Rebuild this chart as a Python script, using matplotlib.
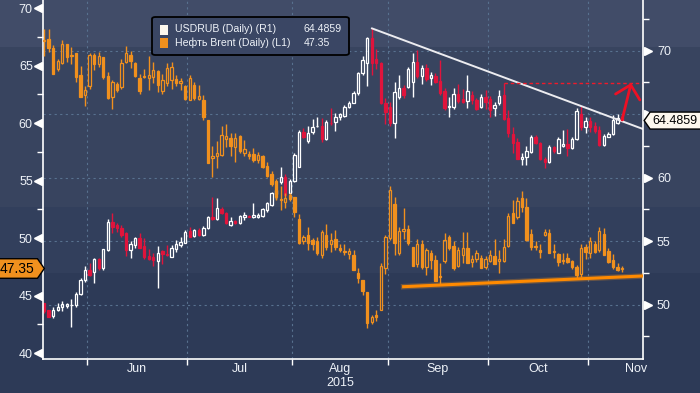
import numpy as np
import pandas as pd
import matplotlib
matplotlib.use('Agg')
import matplotlib.pyplot as plt
from matplotlib.path import Path
from matplotlib.patches import FancyBboxPatch, Rectangle
from matplotlib.ticker import MultipleLocator, FuncFormatter
from matplotlib.transforms import ScaledTranslation

plt.rcParams['font.family'] = ['Liberation Sans', 'DejaVu Sans']

# trading days shown on the chart
dates = pd.bdate_range('2015-05-18', periods=128)

brent_open = [67.1, 67.3, 66.5, 64.7, 65.2, 66.9, 65.8, 66.1, 64.2, 62.4,
              63.2, 65.9, 65.1, 65.7, 64.1, 62.3, 63.4, 63.1, 65.3, 65.9,
              65.2, 63.9, 64.0, 63.9, 64.0, 64.5, 62.8, 63.45, 63.7, 63.8,
              63.45, 63.2, 62.0, 63.3, 62.1, 62.0, 60.3, 57.0, 57.1, 57.2,
              58.6, 58.7, 57.9, 58.9, 57.4, 57.35, 57.3, 56.8, 57.1, 56.3,
              55.6, 55.0, 53.3, 53.1, 53.7, 53.6, 51.65, 49.7, 50.25, 49.8,
              49.7, 48.5, 50.25, 49.5, 49.9, 49.1, 48.85, 48.6, 48.5, 47.0,
              46.35, 45.3, 42.7, 43.3, 43.7, 47.4, 49.97, 53.0, 48.67, 50.6,
              50.8, 49.25, 47.7, 49.5, 47.45, 48.67, 48.1, 46.6, 48.0, 50.1,
              49.3, 47.6, 48.5, 49.1, 47.9, 48.2, 48.3, 47.45, 48.0, 48.4,
              48.0, 48.0, 49.3, 52.2, 51.8, 53.45, 52.7, 50.35, 49.3, 49.0,
              50.3, 50.4, 48.9, 48.6, 48.1, 48.3, 48.0, 47.45, 46.9, 49.2,
              48.67, 49.5, 48.96, 50.35, 48.9, 48.1, 47.5, 47.35]
brent_high = [68.2, 68.2, 66.8, 65.6, 67.2, 66.9, 66.6, 66.1, 65.0, 63.2,
              66.1, 66.1, 66.2, 65.7, 64.4, 63.7, 63.6, 65.6, 66.7, 66.3,
              65.3, 64.3, 64.7, 65.8, 65.3, 64.6, 64.3, 65.2, 65.3, 64.2,
              63.9, 63.3, 64.2, 63.6, 63.3, 62.4, 60.3, 58.0, 58.4, 59.7,
              59.9, 59.1, 59.1, 59.0, 58.5, 57.6, 57.8, 57.5, 57.2, 56.6,
              55.8, 55.1, 54.5, 53.9, 53.9, 53.6, 52.1, 50.3, 50.98, 49.97,
              50.1, 50.7, 51.2, 50.4, 50.7, 49.5, 49.5, 49.1, 48.96, 47.4,
              46.35, 45.3, 43.3, 43.7, 47.8, 50.3, 54.5, 53.6, 50.98, 52.6,
              51.1, 49.25, 49.9, 49.8, 49.1, 49.0, 48.5, 47.8, 50.4, 50.3,
              49.7, 49.2, 50.5, 50.55, 48.5, 48.96, 48.5, 48.4, 49.0, 49.9,
              48.96, 49.9, 52.15, 53.3, 53.6, 54.1, 53.45, 50.76, 49.7, 49.5,
              50.76, 50.76, 49.5, 48.7, 48.7, 48.67, 48.1, 47.65, 49.5, 49.5,
              50.1, 49.7, 50.98, 50.9, 49.1, 48.6, 47.85, 47.6]
brent_low = [65.8, 66.2, 64.3, 64.5, 65.1, 65.3, 65.1, 63.6, 62.3, 61.5,
             63.0, 64.6, 64.9, 63.8, 62.1, 61.2, 62.7, 63.0, 65.2, 64.8,
             64.0, 62.5, 63.9, 62.9, 63.5, 62.7, 62.5, 63.2, 63.0, 63.2,
             62.9, 62.0, 62.0, 62.0, 62.0, 60.3, 56.5, 55.3, 56.1, 57.1,
             57.9, 57.1, 56.6, 57.4, 57.1, 56.9, 56.6, 56.5, 56.1, 55.3,
             54.5, 53.3, 52.4, 52.6, 53.2, 51.8, 49.5, 49.5, 49.0, 48.96,
             48.5, 48.3, 48.96, 48.8, 48.96, 48.8, 48.5, 48.2, 47.2, 46.1,
             45.05, 42.2, 42.5, 42.8, 43.7, 46.9, 49.8, 48.5, 48.5, 49.9,
             49.4, 47.6, 47.5, 47.35, 46.8, 47.3, 46.3, 46.0, 47.8, 48.96,
             47.2, 47.5, 47.8, 47.8, 47.45, 47.95, 47.4, 47.3, 47.9, 47.7,
             47.0, 47.95, 49.25, 51.3, 51.65, 52.3, 49.75, 48.96, 48.96, 48.3,
             50.2, 48.67, 48.3, 47.6, 47.7, 47.8, 47.35, 46.5, 46.6, 48.2,
             48.3, 48.67, 48.8, 48.5, 47.8, 47.3, 47.15, 47.05]
brent_close = [67.2, 66.5, 64.3, 65.4, 66.9, 65.7, 65.9, 64.0, 62.3, 62.9,
               65.9, 65.1, 65.8, 64.0, 62.2, 63.6, 62.9, 65.2, 66.1, 65.4,
               64.1, 62.8, 64.1, 64.2, 64.6, 63.3, 63.7, 64.8, 64.85, 63.45,
               63.65, 62.1, 63.9, 62.15, 62.35, 60.5, 56.55, 57.1, 57.4, 58.96,
               58.9, 58.0, 58.7, 57.6, 57.7, 57.1, 56.8, 57.2, 56.2, 55.4,
               54.7, 53.6, 53.4, 53.45, 53.4, 52.3, 49.6, 50.1, 49.6, 49.5,
               48.67, 50.55, 49.2, 49.8, 49.2, 49.0, 48.8, 48.9, 47.2, 46.5,
               45.4, 42.6, 43.1, 43.1, 47.6, 50.1, 54.2, 49.6, 50.6, 50.8,
               49.6, 47.6, 49.5, 47.5, 48.96, 48.1, 46.3, 46.7, 49.8, 49.1,
               47.4, 48.96, 49.1, 47.8, 48.2, 48.7, 47.4, 48.2, 48.5, 47.75,
               48.2, 49.25, 51.95, 51.3, 53.2, 52.7, 49.8, 49.25, 49.2, 48.8,
               50.5, 48.67, 48.8, 47.9, 48.0, 47.95, 47.5, 46.8, 49.1, 48.8,
               49.7, 48.8, 50.6, 48.5, 47.95, 47.45, 47.2, 47.35]

rub_open = [50.1, 49.57, 49.1, 49.57, 49.78, 49.9, 49.93, 49.97, 50.83, 51.93,
            52.7, 52.6, 53.56, 52.85, 54.3, 56.5, 56.27, 56.0, 55.66, 54.3,
            54.69, 55.21, 54.6, 53.82, 53.72, 53.46, 54.2, 53.98, 53.77, 54.35,
            54.69, 54.87, 55.82, 55.4, 55.87, 55.48, 56.0, 56.92, 56.73, 57.52,
            57.18, 56.27, 56.58, 56.4, 56.92, 57.0, 56.92, 56.92, 56.97, 57.44,
            57.84, 58.7, 59.67, 60.07, 58.76, 59.75, 60.85, 63.56, 62.9, 63.56,
            64.03, 64.06, 63.0, 64.3, 64.4, 64.74, 64.85, 65.53, 65.84, 66.63,
            68.2, 68.99, 70.96, 69.3, 68.99, 65.84, 65.53, 64.27, 66.37, 67.02,
            67.15, 67.55, 69.12, 67.99, 68.6, 67.81, 67.99, 67.6, 66.84, 65.53,
            65.53, 66.58, 66.18, 66.05, 66.5, 66.1, 65.58, 66.32, 66.16, 65.45,
            65.9, 66.5, 64.66, 63.43, 62.8, 61.43, 61.64, 62.04, 63.17, 62.69,
            61.43, 61.25, 62.38, 61.96, 62.48, 62.64, 62.3, 63.01, 65.0, 63.95,
            64.45, 64.06, 63.74, 62.56, 63.22, 63.4, 64.27, 64.74]
rub_high = [50.15, 49.6, 49.78, 50.15, 50.3, 50.15, 50.4, 51.0, 52.1, 53.0,
            53.25, 53.7, 53.7, 54.4, 56.7, 57.23, 56.45, 56.27, 55.74, 55.03,
            55.34, 55.6, 55.21, 54.35, 54.03, 54.6, 54.3, 54.69, 54.69, 55.08,
            55.34, 55.87, 56.13, 55.92, 56.0, 56.18, 56.97, 58.5, 58.36, 57.71,
            57.31, 56.92, 56.66, 57.05, 57.31, 57.05, 58.02, 57.18, 57.58, 58.1,
            58.89, 59.4, 60.85, 60.28, 59.85, 61.9, 63.74, 63.87, 64.06, 64.58,
            64.74, 64.66, 64.53, 65.45, 65.06, 65.1, 65.71, 66.05, 66.84, 68.34,
            69.57, 71.09, 71.75, 70.1, 69.12, 66.24, 65.97, 67.55, 68.07, 67.29,
            68.73, 69.78, 70.04, 68.86, 68.94, 68.34, 68.26, 69.25, 67.02, 66.32,
            67.02, 67.36, 67.0, 68.07, 66.84, 66.24, 66.58, 66.89, 66.42, 65.97,
            66.89, 67.42, 65.32, 63.95, 63.09, 61.9, 62.48, 63.35, 63.35, 62.82,
            61.64, 62.56, 62.5, 63.22, 63.74, 63.8, 63.22, 65.45, 65.63, 64.74,
            64.74, 64.4, 64.06, 63.4, 63.61, 64.92, 65.0, 64.92]
rub_low = [49.3, 49.0, 48.97, 49.5, 49.5, 49.7, 48.2, 49.78, 50.75, 51.8,
           52.25, 51.7, 52.7, 52.7, 54.24, 55.66, 55.74, 55.34, 53.82, 53.64,
           54.42, 54.48, 53.56, 53.5, 53.03, 51.3, 53.2, 53.8, 53.72, 54.16,
           54.56, 54.82, 55.29, 55.34, 55.4, 55.4, 55.92, 56.66, 56.66, 57.13,
           56.32, 56.18, 56.35, 56.35, 56.66, 56.87, 56.79, 56.84, 56.87, 57.31,
           57.76, 58.3, 59.5, 58.5, 58.63, 59.67, 60.8, 63.1, 62.69, 63.43,
           64.0, 62.8, 62.95, 64.14, 63.69, 64.53, 64.8, 65.45, 65.84, 66.5,
           68.07, 67.21, 68.07, 68.52, 65.79, 64.22, 64.06, 63.09, 66.16, 66.24,
           67.02, 66.32, 67.81, 67.37, 67.63, 67.29, 67.42, 66.5, 65.32, 64.74,
           65.37, 65.84, 65.9, 65.45, 65.79, 65.32, 65.45, 65.37, 64.74, 64.85,
           65.71, 64.53, 63.22, 61.96, 61.43, 60.99, 60.99, 61.9, 62.64, 61.38,
           60.73, 61.12, 61.9, 61.9, 62.43, 61.7, 62.22, 62.96, 63.74, 63.53,
           63.61, 63.53, 62.48, 62.48, 63.17, 63.35, 64.22, 64.48]
rub_close = [49.5, 49.05, 49.57, 49.78, 50.04, 50.04, 49.97, 50.83, 51.93, 52.7,
             52.3, 53.56, 52.85, 54.35, 56.5, 56.13, 56.0, 55.47, 54.3, 54.77,
             55.21, 54.48, 53.77, 53.59, 53.51, 54.03, 53.96, 53.88, 54.48, 54.77,
             54.95, 55.74, 55.34, 55.87, 55.48, 56.0, 56.92, 56.7, 57.58, 57.18,
             56.4, 56.6, 56.4, 56.97, 57.05, 56.9, 57.05, 57.05, 57.5, 57.97,
             58.76, 59.0, 60.07, 58.6, 59.75, 61.78, 63.56, 63.17, 63.48, 64.0,
             64.06, 63.0, 64.4, 64.27, 64.74, 65.0, 65.53, 65.9, 66.68, 68.2,
             69.25, 70.96, 68.99, 68.99, 65.84, 65.18, 64.27, 66.76, 67.02, 66.5,
             68.52, 69.12, 67.99, 68.6, 67.73, 68.07, 67.55, 66.68, 65.45, 65.6,
             66.58, 66.05, 65.97, 66.84, 66.1, 65.37, 66.32, 65.97, 65.32, 65.71,
             66.42, 64.58, 63.48, 62.74, 61.43, 61.59, 62.09, 63.17, 62.69, 61.43,
             61.25, 62.43, 62.12, 63.03, 62.64, 62.35, 63.03, 65.27, 63.95, 64.45,
             63.95, 63.69, 62.56, 63.27, 63.4, 64.53, 64.66, 64.4859]

# hand-drawn annotation lines (x in trading-day index)
trend_x = [72, 131.6]          # resistance on USDRUB (right axis)
trend_y = [71.75, 63.82]
support_x = [79, 131.6]        # support on Brent (left axis)
support_y = [45.77, 46.7]
target_level = 67.45
target_from = 101
arrow_from = (127, 64.53)
arrow_to = (129, 67.45)

month_names = ['Jun', 'Jul', 'Aug\n2015', 'Sep', 'Oct', 'Nov']

BG = '#2f3c5a'
ORANGE = '#f0901e'
RED = '#e0143c'
TXT = '#eef2f8'
GRID = '#58718f'

W, H = 700, 393
fig = plt.figure(figsize=(W / 100, H / 100), dpi=100)
fig.patch.set_facecolor(BG)

bg = fig.add_axes([0, 0, 1, 1], zorder=-5)
bg.set_xlim(0, 1)
bg.set_ylim(H, 0)
bg.axhspan(0, 47, color='#414c68', lw=0)
bg.axhspan(47, 207, color='#38445f', lw=0)
bg.axhspan(207, 273, color='#323f5c', lw=0)
bg.axhspan(273, H, color='#2d3a57', lw=0)
bg.axis('off')

# base axes = USDRUB (right scale), twin on top = Brent (left scale)
ax = fig.add_axes([42.5 / W, (H - 359) / H, (643 - 42.5) / W, 359 / H])
ax.patch.set_visible(False)
axb = ax.twinx()
ax.yaxis.tick_right()
axb.yaxis.tick_left()
axb.patch.set_visible(False)

n = len(dates)
x = np.arange(n)
ax.set_xlim(-0.35, 131.6)
ax.set_ylim(45.71, 73.98)
axb.set_ylim(39.48, 70.70)


def candles(axis, o, h, l, c, up_edge, up_face, dn_edge, dn_face):
    o, h, l, c = map(np.asarray, (o, h, l, c))
    top = np.maximum(o, c)
    bot = np.minimum(o, c)
    up = c >= o
    edges = [up_edge if u else dn_edge for u in up]
    faces = [up_face if u else dn_face for u in up]
    axis.vlines(x, top, np.maximum(h, top), colors=edges, lw=1)
    axis.vlines(x, np.minimum(l, bot), bot, colors=edges, lw=1)
    axis.bar(x, np.maximum(top - bot, 0.04), bottom=bot, width=0.52,
             color=faces, edgecolor=edges, linewidth=0.9)


candles(ax, rub_open, rub_high, rub_low, rub_close, 'white', 'none', RED, RED)
candles(axb, brent_open, brent_high, brent_low, brent_close,
        ORANGE, 'none', ORANGE, ORANGE)

# month ticks on trading-day index
month_start = [i for i in range(1, n) if dates[i].month != dates[i - 1].month]
bounds = [i - 0.5 for i in month_start]
mids = [(a + b) / 2 for a, b in zip(bounds, bounds[1:] + [bounds[-1] + 21])]
ax.set_xticks(bounds)
ax.set_xticklabels([])
ax.set_xticks(mids, minor=True)
ax.set_xticklabels(month_names, minor=True)
ax.tick_params(axis='x', which='major', length=4, width=1, color='white', direction='out')
ax.tick_params(axis='x', which='minor', length=0, pad=3, labelsize=9, labelcolor=TXT)

for a, side in ((ax, 'right'), (axb, 'left')):
    a.yaxis.set_major_locator(MultipleLocator(5))
    a.yaxis.set_minor_locator(MultipleLocator(2.5))
    a.tick_params(axis='y', which='major', length=0, pad=10 if side == 'right' else 7,
                  labelsize=9, labelcolor=TXT)
    a.tick_params(axis='y', which='minor', length=4, width=1, color='white', direction='out')

# the last-price tag covers the right-axis label next to it
last_rub = rub_close[-1]
ax.yaxis.set_major_formatter(FuncFormatter(lambda v, p: '' if abs(v - last_rub) < 1.5 else '%d' % v))
axb.yaxis.set_major_formatter(FuncFormatter(lambda v, p: '%d' % v))

# grid on the base axes, below all candles
ax.grid(True, which='major', axis='both', color=GRID, lw=0.8, ls=(0, (2, 3)))
ax.set_axisbelow(True)

ax.spines['top'].set_visible(False)
for s in ('left', 'right', 'bottom'):
    ax.spines[s].set_color('white')
    ax.spines[s].set_linewidth(1.2)
for s in axb.spines.values():
    s.set_visible(False)

# triangle markers instead of major y ticks
rv = [v for v in range(50, 75, 5)]
lv = [v for v in range(40, 75, 5)]
ax.plot([1] * len(rv), rv, ls='none', marker='>', ms=6, color='white', clip_on=False,
        transform=ax.get_yaxis_transform() + ScaledTranslation(4.5 / 100, 0, fig.dpi_scale_trans))
axb.plot([0] * len(lv), lv, ls='none', marker='<', ms=6, color='white', clip_on=False,
         transform=axb.get_yaxis_transform() + ScaledTranslation(-4.5 / 100, 0, fig.dpi_scale_trans))

# annotations
ax.plot(trend_x, trend_y, color='#ececf0', lw=1.4, solid_capstyle='round')
axb.plot(support_x, support_y, color=ORANGE, lw=4, alpha=0.3)
axb.plot(support_x, support_y, color='#ff8a00', lw=2.2)
ax.hlines(target_level, target_from, 131.6, colors='#f01a2a', lw=1.0, linestyles=(0, (2.5, 2)))
ax.annotate('', xy=arrow_to, xytext=arrow_from,
            arrowprops=dict(arrowstyle='->,head_length=0.45,head_width=0.45',
                            color='#ee1024', lw=2, mutation_scale=20, shrinkA=0, shrinkB=0))


def tag_right(x0, y0, width, height, mutation_size):
    p = 0.2 * mutation_size
    x0, y0, w, h = x0 - p, y0 - p, width + 2 * p, height + 2 * p
    t = 0.35 * h
    return Path([(x0, y0), (x0 + w, y0), (x0 + w + t, y0 + h / 2), (x0 + w, y0 + h),
                 (x0, y0 + h), (x0, y0)], closed=True)


def tag_left(x0, y0, width, height, mutation_size):
    p = 0.2 * mutation_size
    x0, y0, w, h = x0 - p, y0 - p, width + 2 * p + 10, height + 2 * p
    t = 0.35 * h
    return Path([(x0, y0), (x0 + w, y0), (x0 + w, y0 + h), (x0, y0 + h),
                 (x0 - t, y0 + h / 2), (x0, y0)], closed=True)


axb.text(-0.013, brent_close[-1], f'{brent_close[-1]:.2f}', transform=axb.get_yaxis_transform(),
         ha='right', va='center', fontsize=10, color='black', zorder=10, clip_on=False,
         bbox=dict(boxstyle=tag_right, fc=ORANGE, ec='black', lw=1))
ax.text(1.016, last_rub, f'{last_rub:.4f}', transform=ax.get_yaxis_transform(),
        ha='left', va='center', fontsize=9, color='black', zorder=10, clip_on=False,
        bbox=dict(boxstyle=tag_left, fc='#fdf8ee', ec='black', lw=1))


# legend box
def fx(px):
    return px / W


def fy(py):
    return 1 - py / H


fig.patches.append(FancyBboxPatch((fx(152), fy(55)), fx(349) - fx(152), fy(17) - fy(55),
                                  boxstyle='round,pad=0,rounding_size=0.005',
                                  transform=fig.transFigure, fc='#3a4664', ec='black', lw=1.3,
                                  zorder=5))
rows = [('USDRUB (Daily) (R1)', f'{last_rub:.4f}', '#fdf8ee', 29.5),
        ('Нефть Brent (Daily) (L1)', f'{brent_close[-1]:.2f}', ORANGE, 42.5)]
for label, val, col, py in rows:
    fig.patches.append(Rectangle((fx(160), fy(py + 5)), fx(168) - fx(160), fy(py - 5) - fy(py + 5),
                                 transform=fig.transFigure, fc=col, ec='none', zorder=6))
    fig.text(fx(175), fy(py), label, ha='left', va='center', fontsize=7.6, color=TXT, zorder=6)
    fig.text(fx(304), fy(py), val, ha='left', va='center', fontsize=7.6, color=TXT, zorder=6)

fig.savefig('out.png', dpi=100, facecolor=fig.get_facecolor())
